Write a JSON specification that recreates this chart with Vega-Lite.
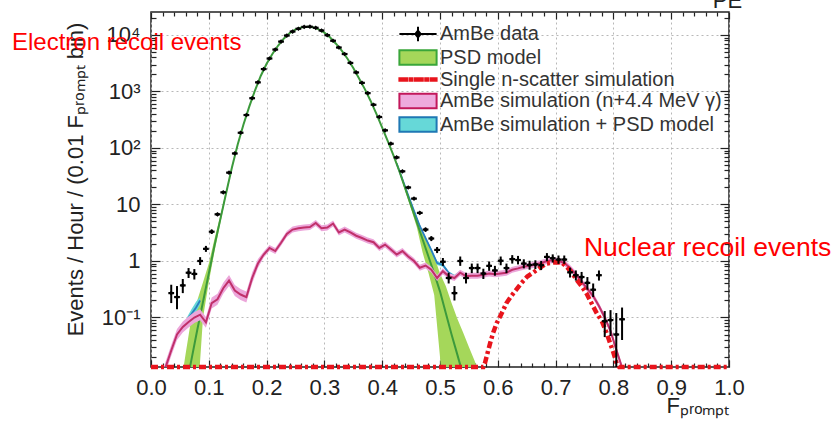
{
  "$schema": "https://vega.github.io/schema/vega-lite/v6.json",
  "width": 578,
  "height": 355,
  "autosize": {"type": "none"},
  "padding": {"left": 151, "top": 12, "right": 108, "bottom": 55},
  "background": "white",
  "config": {
    "view": {"stroke": "#222", "strokeWidth": 1.5},
    "font": "Liberation Sans",
    "legend": {
      "orient": "none",
      "legendX": 257,
      "legendY": 12,
      "padding": 0,
      "symbolSize": 144,
      "symbolStrokeWidth": 2,
      "labelFontSize": 20,
      "labelFont": "Liberation Sans",
      "labelColor": "#333",
      "labelOffset": 12,
      "labelLimit": 500,
      "rowPadding": -0.5,
      "title": null
    }
  },
  "datasets": {
    "psd": [
      {"x": 0.05, "y": 0.002, "lo": 0.0002, "hi": 0.005},
      {"x": 0.06, "y": 0.0055, "lo": 0.0004, "hi": 0.023},
      {"x": 0.07, "y": 0.018, "lo": 0.0006, "hi": 0.1},
      {"x": 0.08, "y": 0.06, "lo": 0.003, "hi": 0.2},
      {"x": 0.09, "y": 0.19, "lo": 0.1, "hi": 0.42},
      {"x": 0.10, "y": 0.6, "lo": 0.42, "hi": 0.9},
      {"x": 0.11, "y": 1.9, "lo": 1.5, "hi": 2.5},
      {"x": 0.12, "y": 5.5, "lo": 4.7, "hi": 6.4},
      {"x": 0.13, "y": 16, "lo": 14.6, "hi": 17.5},
      {"x": 0.14, "y": 45, "lo": 43, "hi": 47},
      {"x": 0.15, "y": 115, "lo": 111, "hi": 119},
      {"x": 0.16, "y": 260, "lo": 253, "hi": 267},
      {"x": 0.17, "y": 540, "lo": 528, "hi": 552},
      {"x": 0.18, "y": 1050, "lo": 1030, "hi": 1070},
      {"x": 0.19, "y": 1900, "lo": 1865, "hi": 1935},
      {"x": 0.20, "y": 3100, "lo": 3045, "hi": 3155},
      {"x": 0.21, "y": 4600, "lo": 4520, "hi": 4680},
      {"x": 0.22, "y": 6500, "lo": 6390, "hi": 6610},
      {"x": 0.23, "y": 8700, "lo": 8550, "hi": 8850},
      {"x": 0.24, "y": 10800, "lo": 10620, "hi": 10980},
      {"x": 0.25, "y": 12500, "lo": 12300, "hi": 12700},
      {"x": 0.26, "y": 13600, "lo": 13380, "hi": 13820},
      {"x": 0.27, "y": 14000, "lo": 13770, "hi": 14230},
      {"x": 0.28, "y": 13700, "lo": 13480, "hi": 13920},
      {"x": 0.29, "y": 12600, "lo": 12400, "hi": 12800},
      {"x": 0.30, "y": 11000, "lo": 10820, "hi": 11180},
      {"x": 0.31, "y": 9000, "lo": 8850, "hi": 9150},
      {"x": 0.32, "y": 7000, "lo": 6880, "hi": 7120},
      {"x": 0.33, "y": 5300, "lo": 5210, "hi": 5390},
      {"x": 0.34, "y": 3800, "lo": 3735, "hi": 3865},
      {"x": 0.35, "y": 2600, "lo": 2555, "hi": 2645},
      {"x": 0.36, "y": 1700, "lo": 1670, "hi": 1730},
      {"x": 0.37, "y": 1100, "lo": 1080, "hi": 1120},
      {"x": 0.38, "y": 680, "lo": 667, "hi": 693},
      {"x": 0.39, "y": 400, "lo": 392, "hi": 408},
      {"x": 0.40, "y": 230, "lo": 225, "hi": 235},
      {"x": 0.41, "y": 130, "lo": 127, "hi": 133},
      {"x": 0.42, "y": 72, "lo": 70, "hi": 74},
      {"x": 0.43, "y": 38, "lo": 36, "hi": 40},
      {"x": 0.44, "y": 19, "lo": 17, "hi": 21},
      {"x": 0.45, "y": 9.5, "lo": 8.3, "hi": 11},
      {"x": 0.46, "y": 4.8, "lo": 3.9, "hi": 6},
      {"x": 0.47, "y": 2.4, "lo": 1.4, "hi": 3.3},
      {"x": 0.48, "y": 1.2, "lo": 0.62, "hi": 2.0},
      {"x": 0.49, "y": 0.6, "lo": 0.25, "hi": 1.2},
      {"x": 0.50, "y": 0.29, "lo": 0.02, "hi": 0.6},
      {"x": 0.51, "y": 0.12, "lo": 0.001, "hi": 0.36},
      {"x": 0.52, "y": 0.05, "lo": 0.0005, "hi": 0.18},
      {"x": 0.53, "y": 0.022, "lo": 0.0003, "hi": 0.095},
      {"x": 0.54, "y": 0.0095, "lo": 0.0002, "hi": 0.054},
      {"x": 0.55, "y": 0.004, "lo": 0.0001, "hi": 0.03},
      {"x": 0.56, "y": 0.0017, "lo": 0.0001, "hi": 0.017},
      {"x": 0.57, "y": 0.0007, "lo": 0.0001, "hi": 0.009}
    ],
    "sim": [
      {"x": 0.015, "y": 0.005, "lo": 0.004, "hi": 0.00625},
      {"x": 0.025, "y": 0.013, "lo": 0.0104, "hi": 0.0163},
      {"x": 0.035, "y": 0.026, "lo": 0.0208, "hi": 0.0325},
      {"x": 0.045, "y": 0.05, "lo": 0.04, "hi": 0.0625},
      {"x": 0.055, "y": 0.068, "lo": 0.0544, "hi": 0.085},
      {"x": 0.065, "y": 0.083, "lo": 0.0664, "hi": 0.104},
      {"x": 0.075, "y": 0.10, "lo": 0.08, "hi": 0.125},
      {"x": 0.085, "y": 0.112, "lo": 0.0896, "hi": 0.14},
      {"x": 0.095, "y": 0.082, "lo": 0.0656, "hi": 0.1025},
      {"x": 0.105, "y": 0.18, "lo": 0.144, "hi": 0.225},
      {"x": 0.115, "y": 0.21, "lo": 0.168, "hi": 0.2625},
      {"x": 0.125, "y": 0.33, "lo": 0.264, "hi": 0.4125},
      {"x": 0.135, "y": 0.45, "lo": 0.36, "hi": 0.5625},
      {"x": 0.145, "y": 0.30, "lo": 0.24, "hi": 0.375},
      {"x": 0.155, "y": 0.255, "lo": 0.204, "hi": 0.319},
      {"x": 0.165, "y": 0.23, "lo": 0.184, "hi": 0.2875},
      {"x": 0.175, "y": 0.5, "lo": 0.4, "hi": 0.625},
      {"x": 0.185, "y": 0.9, "lo": 0.75, "hi": 1.08},
      {"x": 0.195, "y": 1.3, "lo": 1.15, "hi": 1.47},
      {"x": 0.205, "y": 1.7, "lo": 1.5, "hi": 1.92},
      {"x": 0.215, "y": 1.5, "lo": 1.33, "hi": 1.7},
      {"x": 0.225, "y": 2.1, "lo": 1.86, "hi": 2.37},
      {"x": 0.235, "y": 3.0, "lo": 2.65, "hi": 3.39},
      {"x": 0.245, "y": 3.6, "lo": 3.19, "hi": 4.07},
      {"x": 0.255, "y": 3.8, "lo": 3.36, "hi": 4.29},
      {"x": 0.265, "y": 3.9, "lo": 3.45, "hi": 4.41},
      {"x": 0.275, "y": 4.0, "lo": 3.54, "hi": 4.52},
      {"x": 0.285, "y": 4.7, "lo": 4.16, "hi": 5.31},
      {"x": 0.295, "y": 3.8, "lo": 3.36, "hi": 4.29},
      {"x": 0.305, "y": 3.9, "lo": 3.45, "hi": 4.41},
      {"x": 0.315, "y": 4.6, "lo": 4.07, "hi": 5.2},
      {"x": 0.325, "y": 3.2, "lo": 2.83, "hi": 3.62},
      {"x": 0.335, "y": 3.6, "lo": 3.19, "hi": 4.07},
      {"x": 0.345, "y": 3.2, "lo": 2.83, "hi": 3.62},
      {"x": 0.355, "y": 2.8, "lo": 2.48, "hi": 3.16},
      {"x": 0.365, "y": 2.55, "lo": 2.26, "hi": 2.88},
      {"x": 0.375, "y": 2.3, "lo": 2.04, "hi": 2.6},
      {"x": 0.385, "y": 2.15, "lo": 1.9, "hi": 2.43},
      {"x": 0.395, "y": 1.7, "lo": 1.5, "hi": 1.92},
      {"x": 0.405, "y": 1.95, "lo": 1.73, "hi": 2.2},
      {"x": 0.415, "y": 1.6, "lo": 1.42, "hi": 1.81},
      {"x": 0.425, "y": 1.3, "lo": 1.15, "hi": 1.47},
      {"x": 0.435, "y": 1.5, "lo": 1.33, "hi": 1.7},
      {"x": 0.445, "y": 1.2, "lo": 1.06, "hi": 1.36},
      {"x": 0.455, "y": 1.0, "lo": 0.885, "hi": 1.13},
      {"x": 0.465, "y": 0.76, "lo": 0.673, "hi": 0.859},
      {"x": 0.475, "y": 0.83, "lo": 0.735, "hi": 0.938},
      {"x": 0.485, "y": 0.7, "lo": 0.62, "hi": 0.79},
      {"x": 0.495, "y": 0.5, "lo": 0.442, "hi": 0.565},
      {"x": 0.505, "y": 0.66, "lo": 0.584, "hi": 0.746},
      {"x": 0.515, "y": 0.54, "lo": 0.478, "hi": 0.61},
      {"x": 0.525, "y": 0.5, "lo": 0.442, "hi": 0.565},
      {"x": 0.535, "y": 0.62, "lo": 0.549, "hi": 0.7},
      {"x": 0.545, "y": 0.54, "lo": 0.478, "hi": 0.61},
      {"x": 0.555, "y": 0.55, "lo": 0.487, "hi": 0.62},
      {"x": 0.565, "y": 0.55, "lo": 0.487, "hi": 0.62},
      {"x": 0.575, "y": 0.57, "lo": 0.504, "hi": 0.644},
      {"x": 0.585, "y": 0.6, "lo": 0.531, "hi": 0.678},
      {"x": 0.595, "y": 0.58, "lo": 0.513, "hi": 0.655},
      {"x": 0.605, "y": 0.6, "lo": 0.531, "hi": 0.678},
      {"x": 0.615, "y": 0.62, "lo": 0.549, "hi": 0.7},
      {"x": 0.625, "y": 0.7, "lo": 0.62, "hi": 0.79},
      {"x": 0.635, "y": 0.74, "lo": 0.655, "hi": 0.836},
      {"x": 0.645, "y": 0.79, "lo": 0.7, "hi": 0.893},
      {"x": 0.655, "y": 0.82, "lo": 0.726, "hi": 0.927},
      {"x": 0.665, "y": 0.87, "lo": 0.77, "hi": 0.983},
      {"x": 0.675, "y": 0.92, "lo": 0.814, "hi": 1.04},
      {"x": 0.685, "y": 1.0, "lo": 0.885, "hi": 1.13},
      {"x": 0.695, "y": 1.03, "lo": 0.912, "hi": 1.16},
      {"x": 0.705, "y": 1.0, "lo": 0.885, "hi": 1.13},
      {"x": 0.715, "y": 0.93, "lo": 0.823, "hi": 1.05},
      {"x": 0.725, "y": 0.75, "lo": 0.664, "hi": 0.848},
      {"x": 0.735, "y": 0.58, "lo": 0.513, "hi": 0.655},
      {"x": 0.745, "y": 0.43, "lo": 0.38, "hi": 0.486},
      {"x": 0.755, "y": 0.32, "lo": 0.283, "hi": 0.362},
      {"x": 0.765, "y": 0.24, "lo": 0.212, "hi": 0.271},
      {"x": 0.775, "y": 0.16, "lo": 0.142, "hi": 0.181},
      {"x": 0.785, "y": 0.10, "lo": 0.0885, "hi": 0.113},
      {"x": 0.795, "y": 0.058, "lo": 0.0513, "hi": 0.0655},
      {"x": 0.805, "y": 0.027, "lo": 0.0239, "hi": 0.0305},
      {"x": 0.815, "y": 0.013, "lo": 0.0115, "hi": 0.0147},
      {"x": 0.825, "y": 0.005, "lo": 0.0044, "hi": 0.0057}
    ],
    "sum": [
      {"seg": "a", "x": 0.062, "y": 0.09, "lo": 0.08, "hi": 0.1},
      {"seg": "a", "x": 0.07, "y": 0.115, "lo": 0.1, "hi": 0.14},
      {"seg": "a", "x": 0.078, "y": 0.15, "lo": 0.125, "hi": 0.19},
      {"seg": "a", "x": 0.085, "y": 0.2, "lo": 0.17, "hi": 0.23},
      {"seg": "b", "x": 0.425, "y": 53.6, "lo": 52, "hi": 55},
      {"seg": "b", "x": 0.435, "y": 28, "lo": 27, "hi": 29},
      {"seg": "b", "x": 0.445, "y": 14.6, "lo": 14, "hi": 15.2},
      {"seg": "b", "x": 0.455, "y": 7.7, "lo": 7.3, "hi": 8.1},
      {"seg": "b", "x": 0.465, "y": 4.16, "lo": 3.9, "hi": 4.4},
      {"seg": "b", "x": 0.475, "y": 2.53, "lo": 2.35, "hi": 2.7},
      {"seg": "b", "x": 0.485, "y": 1.55, "lo": 1.43, "hi": 1.67},
      {"seg": "b", "x": 0.495, "y": 0.92, "lo": 0.85, "hi": 0.99},
      {"seg": "b", "x": 0.505, "y": 0.85, "lo": 0.79, "hi": 0.91},
      {"seg": "b", "x": 0.515, "y": 0.62, "lo": 0.58, "hi": 0.66},
      {"seg": "b", "x": 0.525, "y": 0.53, "lo": 0.49, "hi": 0.57},
      {"seg": "b", "x": 0.535, "y": 0.63, "lo": 0.58, "hi": 0.68},
      {"seg": "b", "x": 0.545, "y": 0.545, "lo": 0.5, "hi": 0.59}
    ],
    "nscat": [
      {"x": 0.0, "y": 0.0133},
      {"x": 0.575, "y": 0.0133},
      {"x": 0.578, "y": 0.016},
      {"x": 0.587, "y": 0.036},
      {"x": 0.592, "y": 0.054},
      {"x": 0.598, "y": 0.079},
      {"x": 0.607, "y": 0.12},
      {"x": 0.615, "y": 0.18},
      {"x": 0.624, "y": 0.245},
      {"x": 0.633, "y": 0.32},
      {"x": 0.641, "y": 0.41},
      {"x": 0.651, "y": 0.53},
      {"x": 0.661, "y": 0.62},
      {"x": 0.673, "y": 0.76},
      {"x": 0.684, "y": 0.9},
      {"x": 0.699, "y": 0.95},
      {"x": 0.711, "y": 0.93},
      {"x": 0.719, "y": 0.79},
      {"x": 0.728, "y": 0.62},
      {"x": 0.736, "y": 0.47},
      {"x": 0.745, "y": 0.36},
      {"x": 0.754, "y": 0.26},
      {"x": 0.762, "y": 0.18},
      {"x": 0.771, "y": 0.12},
      {"x": 0.78, "y": 0.086},
      {"x": 0.788, "y": 0.054},
      {"x": 0.794, "y": 0.036},
      {"x": 0.8, "y": 0.024},
      {"x": 0.806, "y": 0.015},
      {"x": 0.81, "y": 0.0133},
      {"x": 1.0, "y": 0.0133}
    ],
    "ambe": [
      {"x": 0.035, "x0": 0.03, "x1": 0.04, "y": 0.27, "lo": 0.18, "hi": 0.38},
      {"x": 0.045, "x0": 0.04, "x1": 0.05, "y": 0.23, "lo": 0.14, "hi": 0.36},
      {"x": 0.055, "x0": 0.05, "x1": 0.06, "y": 0.37, "lo": 0.27, "hi": 0.48},
      {"x": 0.065, "x0": 0.06, "x1": 0.07, "y": 0.62, "lo": 0.5, "hi": 0.75},
      {"x": 0.075, "x0": 0.07, "x1": 0.08, "y": 0.59, "lo": 0.47, "hi": 0.72},
      {"x": 0.085, "x0": 0.08, "x1": 0.09, "y": 1.0, "lo": 0.85, "hi": 1.17},
      {"x": 0.095, "x0": 0.09, "x1": 0.10, "y": 1.64, "lo": 1.45, "hi": 1.85},
      {"x": 0.105, "x0": 0.10, "x1": 0.11, "y": 3.3, "lo": 3.0, "hi": 3.6},
      {"x": 0.115, "x0": 0.11, "x1": 0.12, "y": 6.7, "lo": 6.3, "hi": 7.1},
      {"x": 0.125, "x0": 0.12, "x1": 0.13, "y": 16.4, "lo": 15.8, "hi": 17},
      {"x": 0.135, "x0": 0.13, "x1": 0.14, "y": 36.6, "lo": 35.8, "hi": 37.4},
      {"x": 0.145, "x0": 0.14, "x1": 0.15, "y": 80, "lo": 78.5, "hi": 81.5},
      {"x": 0.155, "x0": 0.15, "x1": 0.16, "y": 186, "lo": 183, "hi": 189},
      {"x": 0.165, "x0": 0.16, "x1": 0.17, "y": 383, "lo": 377, "hi": 389},
      {"x": 0.175, "x0": 0.17, "x1": 0.18, "y": 760, "lo": 749, "hi": 771},
      {"x": 0.185, "x0": 0.18, "x1": 0.19, "y": 1450, "lo": 1430, "hi": 1470},
      {"x": 0.195, "x0": 0.19, "x1": 0.20, "y": 2490, "lo": 2455, "hi": 2525},
      {"x": 0.205, "x0": 0.20, "x1": 0.21, "y": 3830, "lo": 3775, "hi": 3885},
      {"x": 0.215, "x0": 0.21, "x1": 0.22, "y": 5520, "lo": 5440, "hi": 5600},
      {"x": 0.225, "x0": 0.22, "x1": 0.23, "y": 7640, "lo": 7530, "hi": 7750},
      {"x": 0.235, "x0": 0.23, "x1": 0.24, "y": 9770, "lo": 9630, "hi": 9910},
      {"x": 0.245, "x0": 0.24, "x1": 0.25, "y": 11500, "lo": 11330, "hi": 11670},
      {"x": 0.255, "x0": 0.25, "x1": 0.26, "y": 12900, "lo": 12710, "hi": 13090},
      {"x": 0.265, "x0": 0.26, "x1": 0.27, "y": 13900, "lo": 13700, "hi": 14100},
      {"x": 0.275, "x0": 0.27, "x1": 0.28, "y": 14000, "lo": 13800, "hi": 14200},
      {"x": 0.285, "x0": 0.28, "x1": 0.29, "y": 13400, "lo": 13200, "hi": 13600},
      {"x": 0.295, "x0": 0.29, "x1": 0.30, "y": 12000, "lo": 11820, "hi": 12180},
      {"x": 0.305, "x0": 0.30, "x1": 0.31, "y": 9900, "lo": 9750, "hi": 10050},
      {"x": 0.315, "x0": 0.31, "x1": 0.32, "y": 7900, "lo": 7780, "hi": 8020},
      {"x": 0.325, "x0": 0.32, "x1": 0.33, "y": 6000, "lo": 5910, "hi": 6090},
      {"x": 0.335, "x0": 0.33, "x1": 0.34, "y": 4600, "lo": 4530, "hi": 4670},
      {"x": 0.345, "x0": 0.34, "x1": 0.35, "y": 3200, "lo": 3150, "hi": 3250},
      {"x": 0.355, "x0": 0.35, "x1": 0.36, "y": 2170, "lo": 2140, "hi": 2200},
      {"x": 0.365, "x0": 0.36, "x1": 0.37, "y": 1420, "lo": 1400, "hi": 1440},
      {"x": 0.375, "x0": 0.37, "x1": 0.38, "y": 935, "lo": 921, "hi": 949},
      {"x": 0.385, "x0": 0.38, "x1": 0.39, "y": 582, "lo": 573, "hi": 591},
      {"x": 0.395, "x0": 0.39, "x1": 0.40, "y": 354, "lo": 348, "hi": 360},
      {"x": 0.405, "x0": 0.40, "x1": 0.41, "y": 205, "lo": 201, "hi": 209},
      {"x": 0.415, "x0": 0.41, "x1": 0.42, "y": 119, "lo": 116, "hi": 122},
      {"x": 0.425, "x0": 0.42, "x1": 0.43, "y": 68, "lo": 66, "hi": 70},
      {"x": 0.435, "x0": 0.43, "x1": 0.44, "y": 38.6, "lo": 37.4, "hi": 39.8},
      {"x": 0.445, "x0": 0.44, "x1": 0.45, "y": 20, "lo": 19.2, "hi": 20.8},
      {"x": 0.455, "x0": 0.45, "x1": 0.46, "y": 12.7, "lo": 12.1, "hi": 13.3},
      {"x": 0.465, "x0": 0.46, "x1": 0.47, "y": 7.1, "lo": 6.7, "hi": 7.5},
      {"x": 0.475, "x0": 0.47, "x1": 0.48, "y": 3.6, "lo": 3.3, "hi": 3.9},
      {"x": 0.485, "x0": 0.48, "x1": 0.49, "y": 2.5, "lo": 2.25, "hi": 2.75},
      {"x": 0.495, "x0": 0.49, "x1": 0.50, "y": 1.57, "lo": 1.38, "hi": 1.77},
      {"x": 0.505, "x0": 0.50, "x1": 0.51, "y": 0.97, "lo": 0.82, "hi": 1.13},
      {"x": 0.515, "x0": 0.51, "x1": 0.52, "y": 0.5, "lo": 0.4, "hi": 0.62},
      {"x": 0.525, "x0": 0.52, "x1": 0.53, "y": 0.27, "lo": 0.2, "hi": 0.36},
      {"x": 0.535, "x0": 0.53, "x1": 0.54, "y": 1.0, "lo": 0.82, "hi": 1.2},
      {"x": 0.545, "x0": 0.54, "x1": 0.55, "y": 0.5, "lo": 0.4, "hi": 0.62},
      {"x": 0.555, "x0": 0.55, "x1": 0.56, "y": 0.75, "lo": 0.61, "hi": 0.9},
      {"x": 0.565, "x0": 0.56, "x1": 0.57, "y": 0.75, "lo": 0.61, "hi": 0.9},
      {"x": 0.575, "x0": 0.57, "x1": 0.58, "y": 0.6, "lo": 0.48, "hi": 0.73},
      {"x": 0.585, "x0": 0.58, "x1": 0.59, "y": 0.82, "lo": 0.67, "hi": 0.98},
      {"x": 0.595, "x0": 0.59, "x1": 0.60, "y": 0.68, "lo": 0.55, "hi": 0.82},
      {"x": 0.605, "x0": 0.60, "x1": 0.61, "y": 1.01, "lo": 0.84, "hi": 1.2},
      {"x": 0.615, "x0": 0.61, "x1": 0.62, "y": 0.75, "lo": 0.61, "hi": 0.9},
      {"x": 0.625, "x0": 0.62, "x1": 0.63, "y": 1.08, "lo": 0.9, "hi": 1.27},
      {"x": 0.635, "x0": 0.63, "x1": 0.64, "y": 1.04, "lo": 0.87, "hi": 1.23},
      {"x": 0.645, "x0": 0.64, "x1": 0.65, "y": 0.9, "lo": 0.74, "hi": 1.07},
      {"x": 0.655, "x0": 0.65, "x1": 0.66, "y": 0.85, "lo": 0.7, "hi": 1.01},
      {"x": 0.665, "x0": 0.66, "x1": 0.67, "y": 0.87, "lo": 0.72, "hi": 1.03},
      {"x": 0.675, "x0": 0.67, "x1": 0.68, "y": 0.84, "lo": 0.69, "hi": 1.0},
      {"x": 0.685, "x0": 0.68, "x1": 0.69, "y": 1.18, "lo": 0.99, "hi": 1.38},
      {"x": 0.695, "x0": 0.69, "x1": 0.70, "y": 1.12, "lo": 0.94, "hi": 1.31},
      {"x": 0.705, "x0": 0.70, "x1": 0.71, "y": 1.06, "lo": 0.89, "hi": 1.25},
      {"x": 0.715, "x0": 0.71, "x1": 0.72, "y": 1.06, "lo": 0.89, "hi": 1.25},
      {"x": 0.725, "x0": 0.72, "x1": 0.73, "y": 0.63, "lo": 0.51, "hi": 0.76},
      {"x": 0.735, "x0": 0.73, "x1": 0.74, "y": 0.56, "lo": 0.45, "hi": 0.68},
      {"x": 0.745, "x0": 0.74, "x1": 0.75, "y": 0.52, "lo": 0.41, "hi": 0.64},
      {"x": 0.755, "x0": 0.75, "x1": 0.76, "y": 0.41, "lo": 0.31, "hi": 0.52},
      {"x": 0.765, "x0": 0.76, "x1": 0.77, "y": 0.31, "lo": 0.23, "hi": 0.4},
      {"x": 0.775, "x0": 0.77, "x1": 0.78, "y": 0.56, "lo": 0.45, "hi": 0.68},
      {"x": 0.785, "x0": 0.78, "x1": 0.79, "y": 0.086, "lo": 0.045, "hi": 0.13},
      {"x": 0.795, "x0": 0.79, "x1": 0.80, "y": 0.09, "lo": 0.047, "hi": 0.135},
      {"x": 0.805, "x0": 0.80, "x1": 0.81, "y": 0.05, "lo": 0.012, "hi": 0.12},
      {"x": 0.815, "x0": 0.81, "x1": 0.82, "y": 0.093, "lo": 0.04, "hi": 0.15}
    ],
    "notes": [
      {"key": "electron", "x": -0.2405, "y": 5460, "label": "Electron recoil events"},
      {"key": "nuclear", "x": 0.749, "y": 1.216, "label": "Nuclear recoil events"},
      {"key": "pe", "x": 0.972, "y": 30060, "label": "PE"}
    ],
    "legend": [
      {"series": "AmBe data"}
    ]
  },
  "layer": [
    {
      "data": {"name": "psd"},
      "mark": {"type": "area", "color": "#a5d75a", "opacity": 1, "clip": true},
      "encoding": {
        "x": {
          "field": "x", "type": "quantitative",
          "scale": {"domain": [0, 1], "nice": false, "zero": false},
          "axis": {
            "orient": "bottom",
            "values": [0,0.02,0.04,0.06,0.08,0.1,0.12,0.14,0.16,0.18,0.2,0.22,0.24,0.26,0.28,0.3,0.32,0.34,0.36,0.38,0.4,0.42,0.44,0.46,0.48,0.5,0.52,0.54,0.56,0.58,0.6,0.62,0.64,0.66,0.68,0.7,0.72,0.74,0.76,0.78,0.8,0.82,0.84,0.86,0.88,0.9,0.92,0.94,0.96,0.98,1],
            "domain": false,
            "grid": true,
            "gridColor": "#b8b8b8",
            "gridDash": [2, 3],
            "gridWidth": 1,
            "gridOpacity": {"condition": {"test": "abs(datum.value*10-round(datum.value*10))<0.001", "value": 1}, "value": 0},
            "tickColor": "#222",
            "tickWidth": 1.2,
            "tickSize": {"condition": {"test": "abs(datum.value*10-round(datum.value*10))<0.001", "value": -7}, "value": -4},
            "labelExpr": "abs(datum.value*10-round(datum.value*10))<0.001 ? format(datum.value,'.1f') : ''",
            "labelOverlap": false,
            "labelFlush": false,
            "labelFontSize": 22,
            "labelFont": "Liberation Sans",
            "labelColor": "#222",
            "labelPadding": 17,
            "title": "Fₚᵣₒₘₚₜ",
            "titleFont": "Liberation Sans",
            "titleFontSize": 22,
            "titleFontWeight": "normal",
            "titleColor": "#222",
            "titleAnchor": "end",
            "titleAlign": "right",
            "titleBaseline": "alphabetic",
            "titleY": 45
          }
        },
        "y": {
          "field": "lo", "type": "quantitative",
          "scale": {"type": "log", "domain": [0.0133, 25500], "nice": false},
          "axis": {
            "orient": "left",
            "values": [0.02,0.03,0.04,0.05,0.06,0.07,0.08,0.09,0.1,0.2,0.3,0.4,0.5,0.6,0.7,0.8,0.9,1,2,3,4,5,6,7,8,9,10,20,30,40,50,60,70,80,90,100,200,300,400,500,600,700,800,900,1000,2000,3000,4000,5000,6000,7000,8000,9000,10000,20000],
            "domain": false,
            "grid": true,
            "gridColor": "#b8b8b8",
            "gridDash": [2, 3],
            "gridWidth": 1,
            "gridOpacity": {"condition": {"test": "indexof([0.1,1,10,100,1000,10000], datum.value) >= 0", "value": 1}, "value": 0},
            "tickColor": "#222",
            "tickWidth": 1.2,
            "tickSize": {"condition": {"test": "indexof([0.1,1,10,100,1000,10000], datum.value) >= 0", "value": -9}, "value": -5},
            "labelExpr": "datum.value==0.1?'10⁻¹':datum.value==1?'1':datum.value==10?'10':datum.value==100?'10²':datum.value==1000?'10³':datum.value==10000?'10⁴':''",
            "labelOverlap": false,
            "labelFlush": false,
            "labelFontSize": 22,
            "labelFont": "Liberation Sans",
            "labelColor": "#222",
            "labelPadding": 20,
            "title": "Events / Hour / (0.01 Fₚᵣₒₘₚₜ bin)",
            "titleFont": "Liberation Sans",
            "titleFontSize": 22,
            "titleFontWeight": "normal",
            "titleColor": "#222",
            "titleX": -76,
            "titleY": 167,
            "titleAlign": "center",
            "titleBaseline": "middle",
            "titleAngle": -90
          }
        },
        "y2": {"field": "hi"}
      }
    },
    {
      "data": {"name": "sum"},
      "mark": {"type": "area", "color": "#66d8d8", "opacity": 1, "clip": true},
      "encoding": {
        "x": {"field": "x", "type": "quantitative", "scale": {"domain": [0, 1], "nice": false, "zero": false}, "axis": null},
        "y": {"field": "lo", "type": "quantitative", "scale": {"type": "log", "domain": [0.0133, 25500], "nice": false}, "axis": null},
        "y2": {"field": "hi"},
        "detail": {"field": "seg"}
      }
    },
    {
      "data": {"name": "sum"},
      "mark": {"type": "line", "color": "#2a7fc0", "strokeWidth": 1.8, "clip": true},
      "encoding": {
        "x": {"field": "x", "type": "quantitative", "scale": {"domain": [0, 1], "nice": false, "zero": false}, "axis": null},
        "y": {"field": "y", "type": "quantitative", "scale": {"type": "log", "domain": [0.0133, 25500], "nice": false}, "axis": null},
        "detail": {"field": "seg"}
      }
    },
    {
      "data": {"name": "psd"},
      "mark": {"type": "line", "color": "#3c9a3c", "strokeWidth": 2, "clip": true},
      "encoding": {
        "x": {"field": "x", "type": "quantitative", "scale": {"domain": [0, 1], "nice": false, "zero": false}, "axis": null},
        "y": {"field": "y", "type": "quantitative", "scale": {"type": "log", "domain": [0.0133, 25500], "nice": false}, "axis": null}
      }
    },
    {
      "data": {"name": "sim"},
      "mark": {"type": "area", "color": "#eca6da", "opacity": 1, "clip": true},
      "encoding": {
        "x": {
          "field": "x", "type": "quantitative",
          "scale": {"domain": [0, 1], "nice": false, "zero": false},
          "axis": {
            "orient": "top",
            "values": [0,0.02,0.04,0.06,0.08,0.1,0.12,0.14,0.16,0.18,0.2,0.22,0.24,0.26,0.28,0.3,0.32,0.34,0.36,0.38,0.4,0.42,0.44,0.46,0.48,0.5,0.52,0.54,0.56,0.58,0.6,0.62,0.64,0.66,0.68,0.7,0.72,0.74,0.76,0.78,0.8,0.82,0.84,0.86,0.88,0.9,0.92,0.94,0.96,0.98,1],
            "domain": false,
            "grid": false,
            "labels": false,
            "title": null,
            "tickColor": "#222",
            "tickWidth": 1.2,
            "tickSize": {"condition": {"test": "abs(datum.value*10-round(datum.value*10))<0.001", "value": -7}, "value": -4}
          }
        },
        "y": {
          "field": "lo", "type": "quantitative",
          "scale": {"type": "log", "domain": [0.0133, 25500], "nice": false},
          "axis": {
            "orient": "right",
            "values": [0.02,0.03,0.04,0.05,0.06,0.07,0.08,0.09,0.1,0.2,0.3,0.4,0.5,0.6,0.7,0.8,0.9,1,2,3,4,5,6,7,8,9,10,20,30,40,50,60,70,80,90,100,200,300,400,500,600,700,800,900,1000,2000,3000,4000,5000,6000,7000,8000,9000,10000,20000],
            "domain": false,
            "grid": false,
            "labels": false,
            "title": null,
            "tickColor": "#222",
            "tickWidth": 1.2,
            "tickSize": {"condition": {"test": "indexof([0.1,1,10,100,1000,10000], datum.value) >= 0", "value": -9}, "value": -5}
          }
        },
        "y2": {"field": "hi"}
      }
    },
    {
      "data": {"name": "sim"},
      "mark": {"type": "line", "color": "#c0306a", "strokeWidth": 2, "clip": true},
      "encoding": {
        "x": {"field": "x", "type": "quantitative", "scale": {"domain": [0, 1], "nice": false, "zero": false}, "axis": null},
        "y": {"field": "y", "type": "quantitative", "scale": {"type": "log", "domain": [0.0133, 25500], "nice": false}, "axis": null}
      }
    },
    {
      "data": {"name": "nscat"},
      "mark": {"type": "line", "color": "#e8141c", "strokeWidth": 4.5, "strokeDash": [7, 3, 3, 3], "clip": false},
      "encoding": {
        "x": {"field": "x", "type": "quantitative", "scale": {"domain": [0, 1], "nice": false, "zero": false}, "axis": null},
        "y": {"field": "y", "type": "quantitative", "scale": {"type": "log", "domain": [0.0133, 25500], "nice": false}, "axis": null}
      }
    },
    {
      "data": {"name": "ambe"},
      "mark": {"type": "rule", "color": "black", "strokeWidth": 2.2, "clip": true},
      "encoding": {
        "x": {"field": "x0", "type": "quantitative", "scale": {"domain": [0, 1], "nice": false, "zero": false}, "axis": null},
        "x2": {"field": "x1"},
        "y": {"field": "y", "type": "quantitative", "scale": {"type": "log", "domain": [0.0133, 25500], "nice": false}, "axis": null}
      }
    },
    {
      "data": {"name": "ambe"},
      "mark": {"type": "rule", "color": "black", "strokeWidth": 2, "clip": true},
      "encoding": {
        "x": {"field": "x", "type": "quantitative", "scale": {"domain": [0, 1], "nice": false, "zero": false}, "axis": null},
        "y": {"field": "lo", "type": "quantitative", "scale": {"type": "log", "domain": [0.0133, 25500], "nice": false}, "axis": null},
        "y2": {"field": "hi"}
      }
    },
    {
      "data": {"name": "ambe"},
      "mark": {"type": "point", "shape": "diamond", "filled": true, "color": "black", "opacity": 1, "size": 22, "clip": true},
      "encoding": {
        "x": {"field": "x", "type": "quantitative", "scale": {"domain": [0, 1], "nice": false, "zero": false}, "axis": null},
        "y": {"field": "y", "type": "quantitative", "scale": {"type": "log", "domain": [0.0133, 25500], "nice": false}, "axis": null}
      }
    },
    {
      "data": {"name": "notes"},
      "transform": [{"filter": "datum.key == 'electron'"}],
      "mark": {"type": "text", "align": "left", "baseline": "alphabetic", "fontSize": 24, "font": "Liberation Sans", "color": "#ff0000"},
      "encoding": {
        "x": {"field": "x", "type": "quantitative", "scale": {"domain": [0, 1], "nice": false, "zero": false}, "axis": null},
        "y": {"field": "y", "type": "quantitative", "scale": {"type": "log", "domain": [0.0133, 25500], "nice": false}, "axis": null},
        "text": {"field": "label"}
      }
    },
    {
      "data": {"name": "notes"},
      "transform": [{"filter": "datum.key == 'nuclear'"}],
      "mark": {"type": "text", "align": "left", "baseline": "alphabetic", "fontSize": 26.5, "font": "Liberation Sans", "color": "#ff0000"},
      "encoding": {
        "x": {"field": "x", "type": "quantitative", "scale": {"domain": [0, 1], "nice": false, "zero": false}, "axis": null},
        "y": {"field": "y", "type": "quantitative", "scale": {"type": "log", "domain": [0.0133, 25500], "nice": false}, "axis": null},
        "text": {"field": "label"}
      }
    },
    {
      "data": {"name": "notes"},
      "transform": [{"filter": "datum.key == 'pe'"}],
      "mark": {"type": "text", "align": "left", "baseline": "alphabetic", "fontSize": 22, "font": "Liberation Sans", "color": "#222"},
      "encoding": {
        "x": {"field": "x", "type": "quantitative", "scale": {"domain": [0, 1], "nice": false, "zero": false}, "axis": null},
        "y": {"field": "y", "type": "quantitative", "scale": {"type": "log", "domain": [0.0133, 25500], "nice": false}, "axis": null},
        "text": {"field": "label"}
      }
    },
    {
      "data": {"name": "legend"},
      "transform": [{"filter": "false"}],
      "mark": {"type": "point", "filled": true, "opacity": 1},
      "encoding": {
        "fill": {
          "field": "series", "type": "nominal",
          "scale": {"domain": ["AmBe data", "PSD model", "Single n-scatter simulation", "AmBe simulation (n+4.4 MeV γ)", "AmBe simulation + PSD model"],
                    "range": ["#000000", "#a5d75a", "#e8141c", "#eeaadd", "#66d8d8"]},
          "legend": {"title": null}
        },
        "stroke": {
          "field": "series", "type": "nominal",
          "scale": {"domain": ["AmBe data", "PSD model", "Single n-scatter simulation", "AmBe simulation (n+4.4 MeV γ)", "AmBe simulation + PSD model"],
                    "range": ["#000000", "#3aa63a", "#e8141c", "#c2185b", "#1f78b4"]},
          "legend": {"title": null}
        },
        "shape": {
          "field": "series", "type": "nominal",
          "scale": {"domain": ["AmBe data", "PSD model", "Single n-scatter simulation", "AmBe simulation (n+4.4 MeV γ)", "AmBe simulation + PSD model"],
                    "range": [
                      "M-3.1,0H3.1M0,-1.2V1.2M0,-0.55L0.45,0L0,0.55L-0.45,0Z",
                      "M-3.1,-1.2H3.1V1.2H-3.1Z",
                      "M-3.1,-0.2H-1.8V0.2H-3.1Z M-1.4,-0.2H-0.9V0.2H-1.4Z M-0.5,-0.2H0.8V0.2H-0.5Z M1.2,-0.2H1.7V0.2H1.2Z M2.1,-0.2H3.1V0.2H2.1Z",
                      "M-3.1,-1.2H3.1V1.2H-3.1Z",
                      "M-3.1,-1.2H3.1V1.2H-3.1Z"
                    ]},
          "legend": {"title": null}
        }
      }
    }
  ],
  "resolve": {"axis": {"x": "independent", "y": "independent"}}
}
